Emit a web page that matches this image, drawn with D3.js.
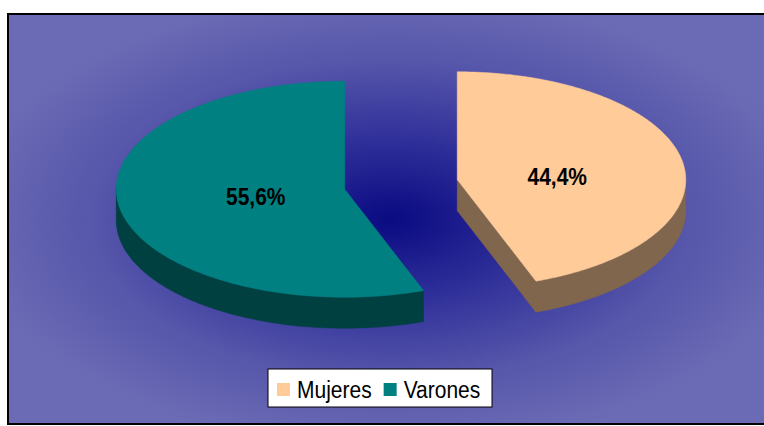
<!DOCTYPE html>
<html>
<head>
<meta charset="utf-8">
<script src="https://cdn.jsdelivr.net/npm/d3@7"></script>
<style>
  html, body { margin: 0; padding: 0; background: #ffffff; }
  svg { display: block; }
</style>
</head>
<body>
<svg id="chart" width="764" height="426"></svg>
<script>
// ---- data ----
const categories = ["Mujeres", "Varones"];
const values = [44.4, 55.6];
const colors = ["#FFCC99", "#008080"];
const sideColors = ["#80664D", "#004040"];

const svg = d3.select("#chart");

// ---- background: gradient from centre ----
const bg = { x: 8, y: 14, w: 764, h: 410 };
const defs = svg.append("defs");
const rg = defs.append("radialGradient").attr("id", "bgGrad")
  .attr("cx", "50%").attr("cy", "50%").attr("r", "56%").attr("fx", "50%").attr("fy", "50%");
[[0, "#0A0A82"], [0.35, "#30309A"], [0.7, "#5757AB"], [1, "#6B6BB5"]].forEach(([o, c]) =>
  rg.append("stop").attr("offset", o).attr("stop-color", c));
svg.append("rect").attr("x", bg.x).attr("y", bg.y).attr("width", bg.w).attr("height", bg.h)
  .attr("fill", "url(#bgGrad)").attr("stroke", "#000").attr("stroke-width", 2);

// ---- 3D pie ----
const cx = 401, cy = 184.5, rx = 228.5, ry = 108, depth = 31, explode = 0.25;
const pie = d3.pie().sort(null).value(d => d).startAngle(0).endAngle(2 * Math.PI);
const arcs = pie(values);

const line = d3.line();
function pt(ox, oy, a, r = 1, dz = 0) {
  return [ox + rx * r * Math.sin(a), oy - ry * r * Math.cos(a) + dz];
}
function arcPts(ox, oy, a0, a1, dz = 0) {
  const n = Math.max(2, Math.ceil(Math.abs(a1 - a0) / 0.01));
  return d3.range(n + 1).map(i => pt(ox, oy, a0 + (a1 - a0) * i / n, 1, dz));
}

const locale = d3.formatLocale({ decimal: ",", thousands: ".", grouping: [3], currency: ["", "€"] });
const fmt = locale.format(".1f");
const total = d3.sum(values);

const pieG = svg.append("g");
arcs.forEach((d, i) => {
  const mid = (d.startAngle + d.endAngle) / 2;
  const ox = cx + rx * explode * Math.sin(mid);
  const oy = cy - ry * explode * Math.cos(mid);
  const g = pieG.append("g");
  // outer wall (front half)
  const w0 = Math.max(d.startAngle, Math.PI / 2), w1 = Math.min(d.endAngle, 3 * Math.PI / 2);
  if (w1 > w0) {
    const top = arcPts(ox, oy, w0, w1, 0);
    const bot = arcPts(ox, oy, w1, w0, depth);
    g.append("path").attr("d", line(top.concat(bot)) + "Z")
      .attr("fill", sideColors[i]).attr("stroke", sideColors[i]).attr("stroke-width", 0.5);
  }
  // cut faces
  if (Math.sin(d.endAngle) > 0.001) {
    const e = pt(ox, oy, d.endAngle);
    g.append("path").attr("d", line([[ox, oy], e, [e[0], e[1] + depth], [ox, oy + depth]]) + "Z")
      .attr("fill", sideColors[i]).attr("stroke", sideColors[i]).attr("stroke-width", 0.5);
  }
  if (Math.sin(d.startAngle) < -0.001) {
    const s = pt(ox, oy, d.startAngle);
    g.append("path").attr("d", line([[ox, oy], s, [s[0], s[1] + depth], [ox, oy + depth]]) + "Z")
      .attr("fill", sideColors[i]).attr("stroke", sideColors[i]).attr("stroke-width", 0.5);
  }
  // top face
  const topPts = [[ox, oy]].concat(arcPts(ox, oy, d.startAngle, d.endAngle, 0));
  g.append("path").attr("d", line(topPts) + "Z")
    .attr("fill", colors[i]).attr("stroke", colors[i]).attr("stroke-width", 0.5);
  // label
  const lx = ox + rx * 0.42 * Math.sin(mid) + 5.5;
  const ly = oy - ry * 0.29 * Math.cos(mid) + 2.5;
  g.append("text")
    .attr("transform", `translate(${lx},${ly}) scale(1,1.12)`)
    .attr("text-anchor", "middle").attr("dominant-baseline", "central")
    .attr("font-family", "Liberation Sans, Arial, sans-serif")
    .attr("font-weight", "bold").attr("font-size", 21)
    .attr("fill", "#000")
    .text(fmt(d.value / total * 100) + "%");
});

// ---- legend ----
const lgG = svg.append("g");
lgG.append("rect").attr("x", 268).attr("y", 369).attr("width", 224).attr("height", 38)
  .attr("fill", "#fff").attr("stroke", "#000").attr("stroke-width", 1);
let lx = 277;
categories.forEach((c, i) => {
  lgG.append("rect").attr("x", lx).attr("y", 383).attr("width", 13).attr("height", 13)
    .attr("fill", colors[i]);
  const t = lgG.append("text").attr("transform", `translate(${lx + 20},397.5) scale(1,1.1)`)
    .attr("font-family", "Liberation Sans, Arial, sans-serif").attr("font-size", 21)
    .attr("fill", "#000").text(c);
  lx = lx + 20 + t.node().getComputedTextLength() + 12;
});
</script>
</body>
</html>
